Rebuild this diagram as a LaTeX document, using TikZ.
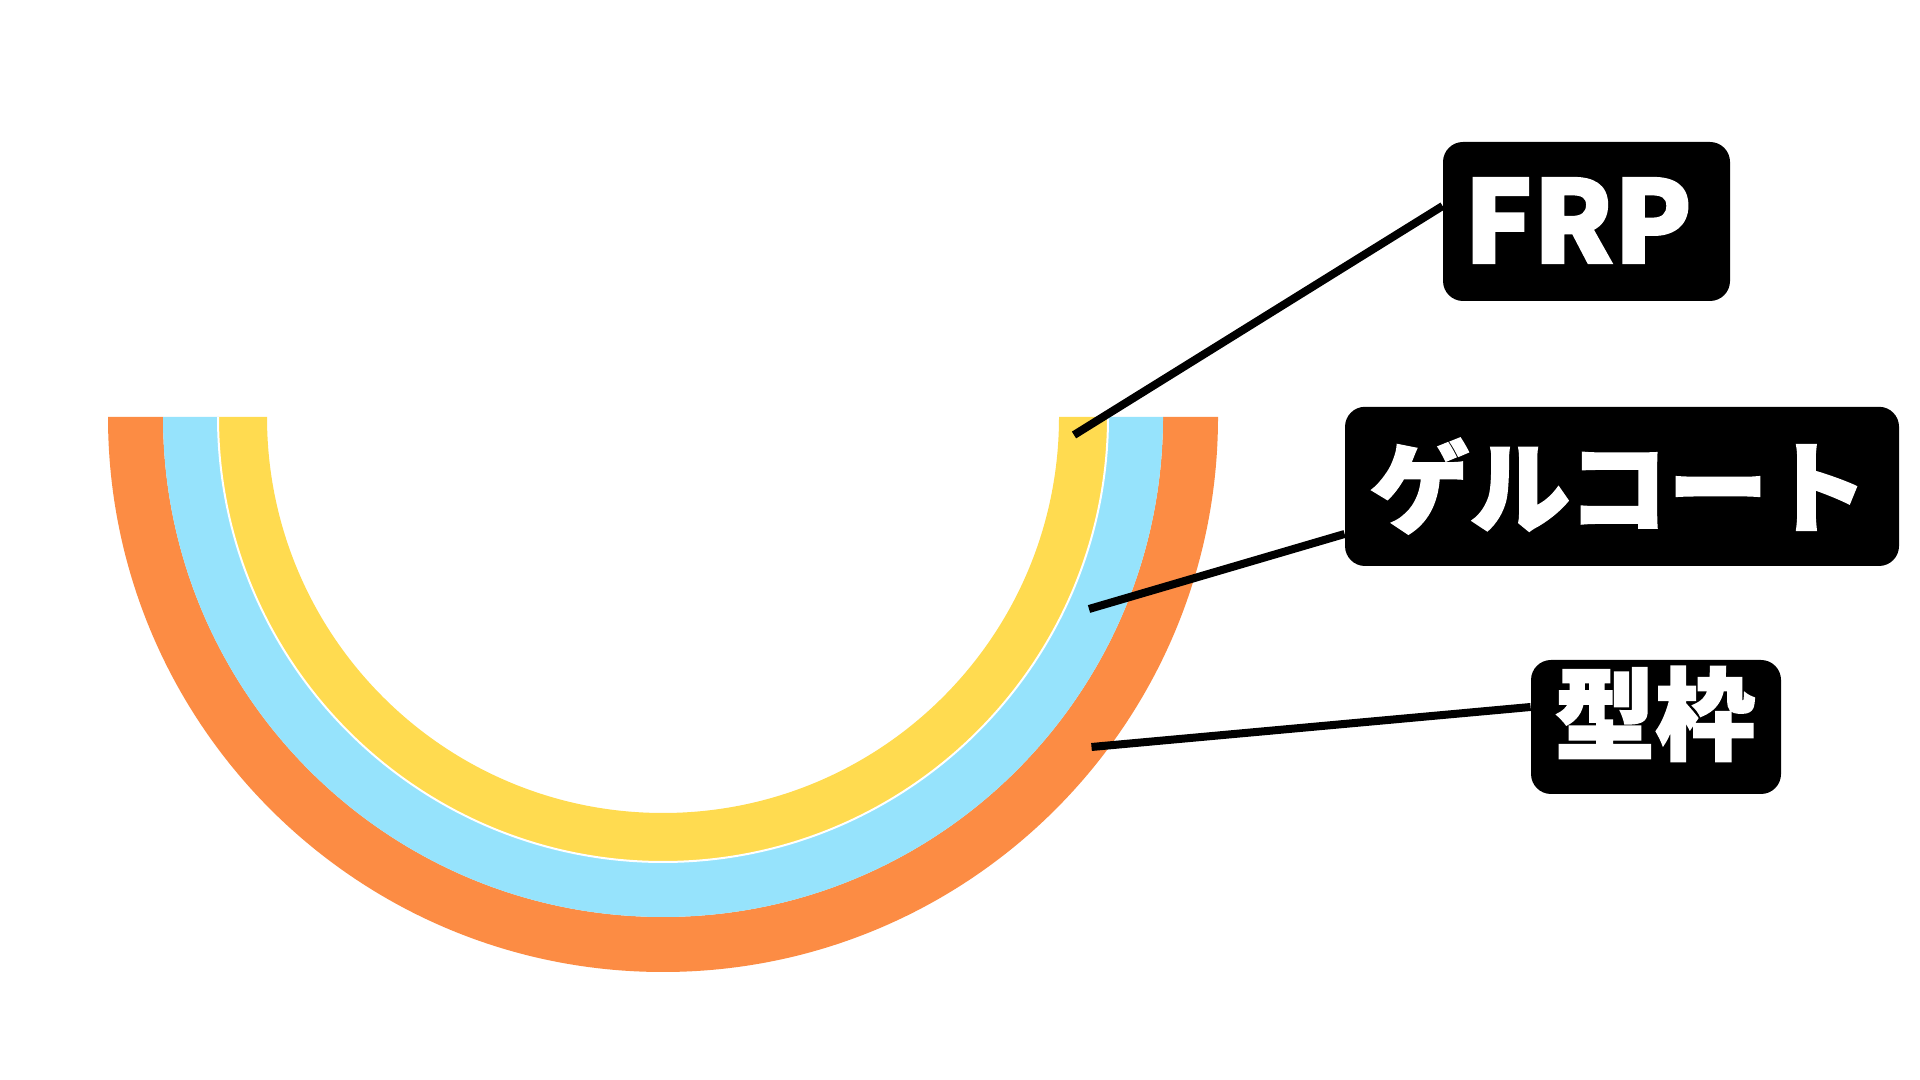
\documentclass[tikz,border=0pt]{standalone}
\usepackage{fontspec}
\usetikzlibrary{calc}
\newfontfamily\jpfont{Noto Sans CJK JP}[BoldFeatures={FakeBold=2}]
\definecolor{moldorange}{RGB}{252,140,68}
\definecolor{gelblue}{RGB}{150,227,252}
\definecolor{frpyellow}{RGB}{255,219,80}
\tikzset{
  labelbox/.style={fill=black, rounded corners=10pt, inner sep=0pt},
  labeltext/.style={text=white, inner sep=0pt},
  leader/.style={draw=black, line width=4pt},
}
\begin{document}
\begin{tikzpicture}[x=0.5pt,y=0.5pt]
\useasboundingbox (0,0) rectangle (1920,1080);
\fill[white] (0,0) rectangle (1920,1080);
% layers (center 663,663)
\fill[moldorange] (108,663) arc[start angle=180,end angle=360,radius=555] -- (1163,663) arc[start angle=360,end angle=180,radius=500] -- cycle;
\fill[gelblue] (163,663) arc[start angle=180,end angle=360,radius=500] -- (1108,663) arc[start angle=360,end angle=180,radius=445] -- cycle;
\fill[frpyellow] (218,663) arc[start angle=180,end angle=360,radius=445] -- (1059,663) arc[start angle=360,end angle=180,radius=396] -- cycle;
\draw[white, line width=1pt] (218,663) arc[start angle=180,end angle=360,radius=445];
% label boxes
\node[labelbox, minimum width=143.5pt, minimum height=79.5pt] (frp) at (1586.5,858.5) {};
\node[labelbox, minimum width=277pt, minimum height=79.6pt] (gel) at (1622,593.6) {};
\node[labelbox, minimum width=125pt, minimum height=67pt] (mold) at (1656,353) {};
\node[labeltext, anchor=base, font=\jpfont\bfseries\fontsize{57}{57}\selectfont] (frpt) at (1578,817) {FRP};
\node[labeltext, font=\jpfont\bfseries\fontsize{50}{50}\selectfont, text height=44pt, text depth=6pt] (gelt) at (1619,593) {ゲルコート};
\node[labeltext, font=\jpfont\bfseries\fontsize{50}{50}\selectfont, text height=44pt, text depth=6pt] (moldt) at (1655,366) {型枠};
% leaders
\coordinate (frpend) at (1074,645);
\coordinate (gelend) at (1089,471);
\coordinate (moldend) at (1091.5,333);
\draw[leader] ($(frp.west)+(0,15.5)$) -- (frpend);
\draw[leader] ($(gel.west)+(0,-47.6)$) -- (gelend);
\draw[leader] ($(mold.west)+(0,20)$) -- (moldend);
\end{tikzpicture}
\end{document}
